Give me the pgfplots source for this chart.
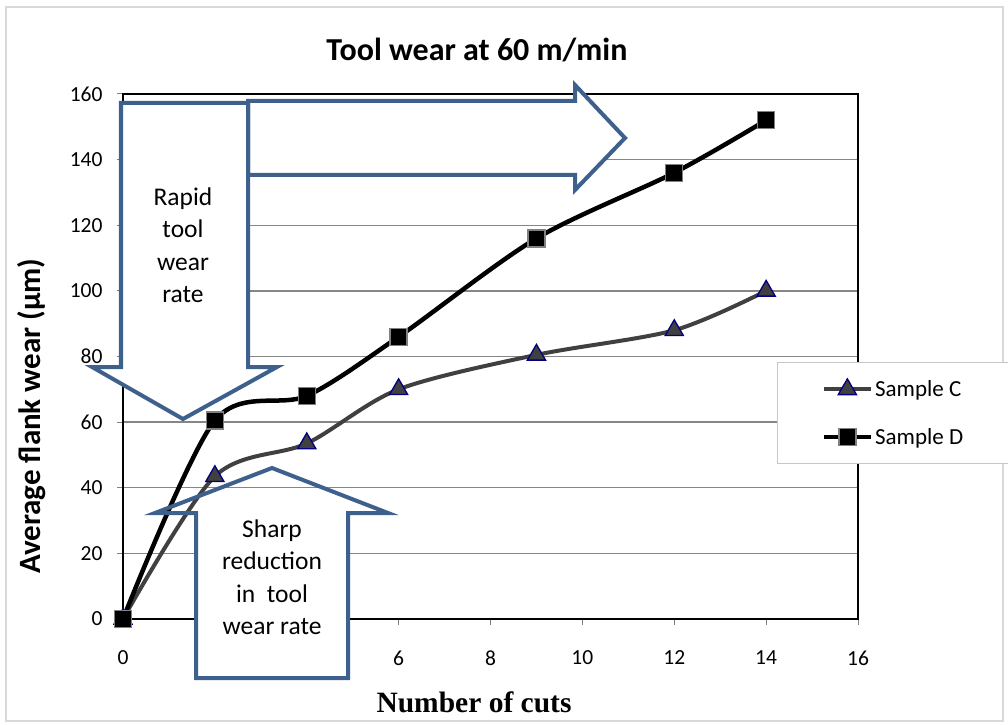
\documentclass[border=0pt]{standalone}
\usepackage{fontspec}
\setmainfont{Carlito}
\newfontfamily\timesfont{Liberation Serif}
\usepackage{pgfplots}
\pgfplotsset{compat=1.18}
\definecolor{arrowblue}{RGB}{62,96,140}
\definecolor{gridgray}{RGB}{134,134,134}
\definecolor{lineC}{RGB}{64,64,64}
\definecolor{navyedge}{RGB}{0,0,128}
\definecolor{markedge}{RGB}{128,128,128}
\definecolor{framegray}{RGB}{217,217,217}

\begin{document}
\begin{tikzpicture}
% outer chart frame (coordinates in pixels, y downwards)
\begin{scope}[shift={(-123pt,619pt)}, x=1pt, y=-1pt]
  \draw[framegray, line width=1.2pt] (6,7) rectangle (1003,721);
\end{scope}

\begin{axis}[
  at={(0pt,0pt)}, anchor=south west,
  scale only axis, width=735pt, height=525pt,
  xmin=0, xmax=16, ymin=0, ymax=160,
  xtick={0,2,...,16}, ytick={0,20,...,160},
  xticklabels={0,,,6,8,10,12,14,16},
  axis line style={black, line width=2.8pt},
  tick align=outside, xtick pos=bottom, ytick pos=left,
  major tick length=6pt,
  tick style={gray, line width=1pt},
  ymajorgrids, grid style={gridgray, line width=1.3pt},
  /pgf/number format/assume math mode=true,
  ticklabel style={font=\fontsize{21.5}{25}\selectfont},
  yticklabel style={xshift=-11pt},
  xticklabel style={yshift=-22pt},
  clip=false,
  legend cell align=left,
  legend style={at={(0.8898,0.4895)}, anchor=north west,
    draw=framegray!80!gray, line width=1.2pt, fill=white,
    font=\fontsize{23}{27}\selectfont,
    inner xsep=44pt, inner ysep=16pt, row sep=26pt},
  legend image code/.code={%
    \draw[mark repeat=2, mark phase=2, #1]
      plot coordinates {(0pt,0pt) (23.5pt,0pt) (47pt,0pt)};},
]
\addplot[lineC, line width=4pt, smooth, mark=triangle*, mark size=10.5pt,
  mark options={fill=lineC, draw=navyedge, line width=1.3pt}]
  coordinates {(0,0) (2,43.5) (4,53.5) (6,70) (9,80.5) (12,88) (14,100)};
\addlegendentry{Sample C}
\addplot[black, line width=4.5pt, smooth, mark=square*, mark size=8.5pt,
  mark options={fill=black, draw=markedge, line width=1.3pt}]
  coordinates {(0,0) (2,60.5) (4,68) (6,86) (9,116) (12,136) (14,152)};
\addlegendentry{Sample D}
\end{axis}

% annotations, titles and labels (pixels, y downwards)
\begin{scope}[shift={(-123pt,619pt)}, x=1pt, y=-1pt]
  % right-pointing block arrow
  \draw[arrowblue, fill=white, line width=4pt, line join=miter]
    (248,101) -- (575,101) -- (575,85) -- (625,138) -- (575,190)
    -- (575,175) -- (248,175) -- cycle;
  % down-pointing block arrow
  \draw[arrowblue, fill=white, line width=4pt, line join=miter]
    (121,103) -- (248,103) -- (248,367) -- (277,367) -- (183,419)
    -- (92,367) -- (121,367) -- cycle;
  \node[align=center, font=\fontsize{25.5}{32.5}\selectfont]
    at (183,245) {Rapid\\tool\\wear\\rate};
  % up-pointing block arrow
  \fill[white] (196,513) rectangle (348,678);
  \draw[arrowblue, line width=4pt, line join=miter]
    (196,678) -- (196,513) -- (155,513) -- (272,468) -- (388,513)
    -- (348,513) -- (348,678) -- cycle;
  \node[align=center, font=\fontsize{25.5}{32.5}\selectfont]
    at (272,577) {Sharp\\reduction\\in\ \ tool\\wear rate};
  % titles
  \node[anchor=base, font=\fontsize{32}{38}\selectfont\bfseries]
    at (477,61) {Tool wear at 60 m/min};
  \node[anchor=base, rotate=90, font=\fontsize{31}{37}\selectfont\bfseries]
    at (41,416) {Average flank wear (µm)};
  \node[anchor=base, font=\fontsize{29.5}{35}\selectfont\timesfont\bfseries]
    at (474,712) {Number of cuts};
  \pgfresetboundingbox
  \path (0,0) rectangle (1008,724);
\end{scope}
\end{tikzpicture}
\end{document}
